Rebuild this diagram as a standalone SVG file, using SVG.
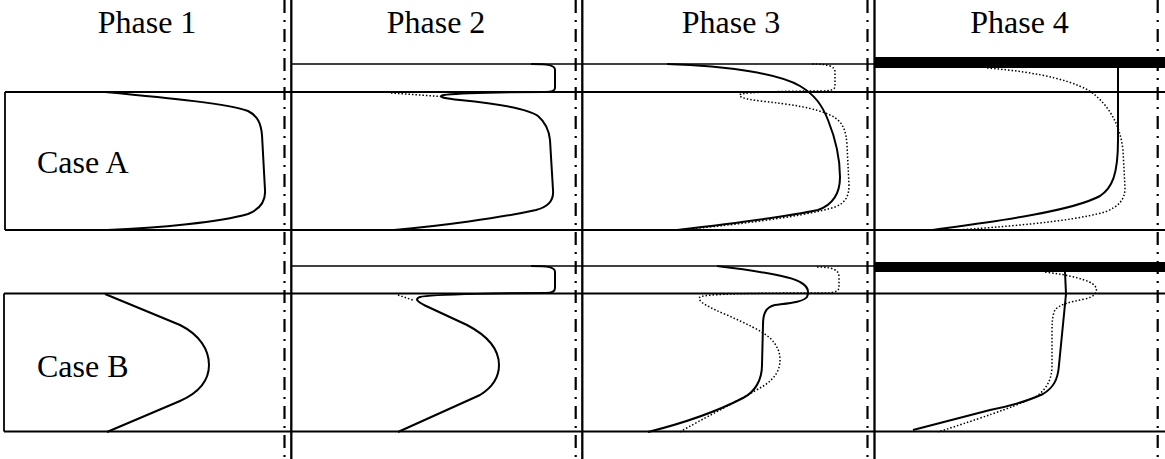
<svg xmlns="http://www.w3.org/2000/svg" width="1165" height="459" viewBox="0 0 1165 459">
<style>
.t{font-family:'Liberation Serif','DejaVu Serif','Times New Roman',Times,serif;font-size:32px;fill:#000}
.box{stroke:#000;stroke-width:1.8;fill:none}
.thin{stroke:#000;stroke-width:1.4;fill:none}
.vs{stroke:#000;stroke-width:2.3}
.dd{stroke:#000;stroke-width:2.2;stroke-dasharray:13 7 2 7}
.sol{stroke:#000;stroke-width:2;fill:none}
.dot{stroke:#000;stroke-width:1.5;fill:none;stroke-dasharray:1.5 2}
</style>
<rect width="1165" height="459" fill="#fff"/>
<g id="grid">
<line class="box" x1="5" y1="92" x2="1165" y2="92"/>
<line class="box" x1="5" y1="230" x2="1165" y2="230"/>
<line class="box" x1="5" y1="92" x2="5" y2="230"/>
<line class="thin" x1="291" y1="64" x2="1165" y2="64"/>
<line class="box" x1="4" y1="293.5" x2="1165" y2="293.5"/>
<line class="box" x1="4" y1="431.5" x2="1165" y2="431.5"/>
<line class="box" x1="4" y1="293.5" x2="4" y2="431.5"/>
<line class="thin" x1="291" y1="266" x2="1165" y2="266"/>
<rect x="874" y="57" width="291" height="11" fill="#000"/>
<rect x="874" y="262" width="291" height="10" fill="#000"/>
<line class="vs" x1="291.3" y1="0" x2="291.3" y2="459"/>
<line class="vs" x1="582.3" y1="0" x2="582.3" y2="459"/>
<line class="vs" x1="874.5" y1="0" x2="874.5" y2="459"/>
<line class="dd" x1="284.5" y1="0" x2="284.5" y2="459"/>
<line class="dd" x1="575.7" y1="0" x2="575.7" y2="459"/>
<line class="dd" x1="867.5" y1="0" x2="867.5" y2="459"/>
<line class="dd" x1="1157.7" y1="0" x2="1157.7" y2="459"/>
</g>
<g id="labels">
<text class="t" font-family="Liberation Serif, serif" x="147" y="33" text-anchor="middle">Phase 1</text>
<text class="t" font-family="Liberation Serif, serif" x="436" y="33" text-anchor="middle">Phase 2</text>
<text class="t" font-family="Liberation Serif, serif" x="731" y="33" text-anchor="middle">Phase 3</text>
<text class="t" font-family="Liberation Serif, serif" x="1019.5" y="33" text-anchor="middle">Phase 4</text>
<text class="t" font-family="Liberation Serif, serif" x="37" y="173">Case A</text>
<text class="t" font-family="Liberation Serif, serif" x="37" y="377">Case B</text>
</g>
<g id="caseA-phase1">
<path class="sol" d="M105,92 C170,98 230,104 248,111 C258,116 261,124 262,135 L265,190 C266,203 258,210 248,214 C220,222 160,228 107,230"/>
</g>
<g id="caseA-phase2">
<path class="sol" d="M531,64 C548,64 555,65 555,70 L555,88 C555,91 552,92 546,92 C520,92 450,93 442,95.5 C438,97 445,98.5 460,100 C500,104 530,110 538,116 C545,122 549,130 550,140 L553,190 C554,200 548,207 536,210 C500,218 440,226 394,230"/>
<path class="dot" d="M391,93 L440,96.5"/>
</g>
<g id="caseA-phase3">
<path class="sol" d="M667,64 C730,66 780,74 800,86 C815,95 822,105 828,120 C836,140 840,160 840,177 C840,195 832,205 818,210 C780,218 720,225 677,230"/>
<path class="dot" d="M812,64 C828,64 835,66 835,72 L835,86 C835,90 830,91 820,91 C790,91 745,92 740,94.5 C738,97 745,99 760,101 C790,104 815,108 830,115 C843,121 846,130 847,145 L849,185 C849,197 845,203 835,207 C800,218 720,226 680,230"/>
</g>
<g id="caseA-phase4">
<path class="sol" d="M1118,68 L1118,140 C1118,175 1112,188 1100,196 C1070,212 990,222 932,230"/>
<path class="dot" d="M987,68 C1040,72 1080,82 1095,95 C1110,108 1120,125 1123,150 L1125,188 C1125,200 1118,207 1105,212 C1070,222 1000,227 957,230"/>
</g>
<g id="caseB-phase1">
<path class="sol" d="M105,294 L180,325 C200,335 209,350 209,365 C209,382 198,393 180,401 L107,432"/>
</g>
<g id="caseB-phase2">
<path class="sol" d="M531,266 C548,266 555,267 555,272 L555,288 C555,292 552,293 546,293 C520,293 430,294 420,297 C414,299 418,302 425,305.5 L467,325 C488,336 499,350 499,365 C499,378 493,387 480,395 L398,432"/>
<path class="dot" d="M398,295 L414,300.5"/>
</g>
<g id="caseB-phase3">
<path class="sol" d="M717,266 C750,270 790,276 800,282 C808,286 809,292 807,297 C803,302 790,303 775,305 C765,307 763,315 763,325 L762,365 C762,380 755,392 743,398 C710,415 680,424 648,432"/>
<path class="dot" d="M817,267 C833,267 839,270 839,277 L839,287 C839,291 835,293 825,293 C790,293 705,293 700,297 C696,301 710,308 727,315 C745,323 762,331 770,338 C778,346 780,353 780,360 C780,370 775,378 765,385 C740,400 700,420 680,432"/>
</g>
<g id="caseB-phase4">
<path class="sol" d="M1065,272 L1066,294 L1059,365 C1058,380 1053,388 1043,394 C1030,400 1010,406 990,410 L913,430"/>
<path class="dot" d="M1045,272 C1070,275 1090,280 1095,286 C1099,292 1094,297 1085,299 C1070,302 1060,304 1055,310 C1052,316 1052,325 1052,335 L1052,368 C1051,382 1045,391 1035,397 C1020,404 1000,412 938,432"/>
</g>
</svg>
